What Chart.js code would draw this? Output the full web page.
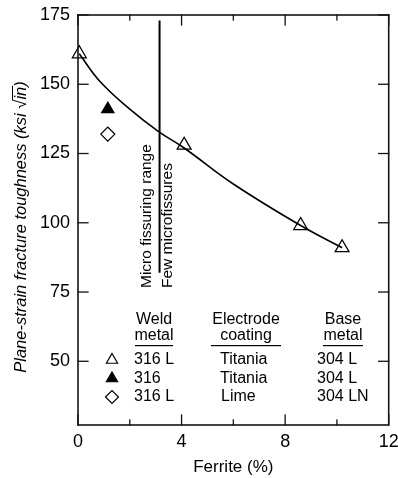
<!DOCTYPE html>
<html>
<head>
<meta charset="utf-8">
<script src="https://cdn.jsdelivr.net/npm/chart.js@4/dist/chart.umd.min.js"></script>
<style>
  html, body { margin: 0; padding: 0; background: #fff; }
  #wrap { width: 398px; height: 478px; }
</style>
</head>
<body>
<div id="wrap"><canvas id="chart"></canvas></div>
<script>
// data
const openTriX = [0.05, 4.1, 8.6, 10.2];
const openTriY = [161, 128, 99, 91];
const filledTriX = [1.15];
const filledTriY = [141];
const diamondX = [1.15];
const diamondY = [132];
// fitted curve
const curveX = [0.05, 0.85, 2.0, 3.1, 4.1, 6.0, 8.6, 10.2];
const curveY = [161, 151, 141, 133, 127, 114, 99, 91];
// micro fissuring boundary line
const boundaryX = [3.15, 3.15];
const boundaryY = [173, 82];

const yTicks = [50, 75, 100, 125, 150, 175];
const xTicks = [0, 4, 8, 12];
const xMinor = [2, 6, 10];

const toPts = (xs, ys) => xs.map((x, i) => ({ x: x, y: ys[i] }));

const FONT = "'Liberation Sans', Arial, sans-serif";

// plot box and inward ticks, same calls as the test page that did show a box
const frame = {
    id: 'frame',
    afterDraw(chart) {
        const ctx = chart.ctx;
        const a = chart.chartArea;
        const xs = chart.scales.x, ys = chart.scales.y;
        ctx.save();
        ctx.strokeStyle = 'rgb(20,20,20)';
        ctx.lineWidth = 1.6;
        ctx.strokeRect(a.left, a.top, a.right - a.left, a.bottom - a.top);
        ctx.lineWidth = 1.3;
        yTicks.forEach(v => {
            const p = ys.getPixelForValue(v);
            ctx.strokeRect(a.left, p, 10, 0.01);
            ctx.strokeRect(a.right - 10, p, 10, 0.01);
        });
        xTicks.forEach(v => {
            const p = xs.getPixelForValue(v);
            ctx.strokeRect(p, a.bottom - 10, 0.01, 10);
            ctx.strokeRect(p, a.top, 0.01, 10);
        });
        xMinor.forEach(v => {
            const p = xs.getPixelForValue(v);
            ctx.strokeRect(p, a.bottom - 5, 0.01, 5);
            ctx.strokeRect(p, a.top, 0.01, 5);
        });
        ctx.restore();
    }
};

// y title, rotated notes and the little legend table
const decorations = {
    id: 'decorations',
    afterDraw(chart) {
        const ctx = chart.ctx;
        ctx.save();
        ctx.fillStyle = '#000';
        ctx.strokeStyle = '#000';
        ctx.textBaseline = 'middle';

        // y axis title with a proper root sign
        ctx.save();
        ctx.translate(21, 227);
        ctx.rotate(-Math.PI / 2);
        ctx.font = 'italic 16.5px ' + FONT;
        const p1 = 'Plane-strain fracture toughness (ksi \u221A', p2 = 'in', p3 = ')';
        const w1 = ctx.measureText(p1).width, w2 = ctx.measureText(p2).width, w3 = ctx.measureText(p3).width;
        const x0 = -(w1 + w2 + w3) / 2;
        ctx.textAlign = 'left';
        ctx.fillText(p1, x0, 0);
        ctx.fillText(p2, x0 + w1, 0);
        ctx.fillText(p3, x0 + w1 + w2, 0);
        ctx.fillRect(x0 + w1 - 1, -9, w2 + 2, 1);
        ctx.restore();

        // rotated notes beside the boundary line
        ctx.font = '15.5px ' + FONT;
        ctx.textAlign = 'left';
        ctx.save();
        ctx.translate(147, 288);
        ctx.rotate(-Math.PI / 2);
        ctx.fillText('Micro fissuring range', 0, 0);
        ctx.restore();
        ctx.save();
        ctx.translate(168, 288);
        ctx.rotate(-Math.PI / 2);
        ctx.fillText('Few microfissures', 0, 0);
        ctx.restore();

        // legend table
        ctx.font = '16px ' + FONT;
        ctx.textAlign = 'center';
        const heads = [['Weld', 'metal', 154, 38], ['Electrode', 'coating', 246, 70], ['Base', 'metal', 343, 40]];
        heads.forEach(h => {
            ctx.fillText(h[0], h[2], 320);
            ctx.fillText(h[1], h[2], 336);
            ctx.fillRect(h[2] - h[3] / 2, 345, h[3], 1.2);
        });
        const rows = [
            ['316 L', 'Titania', '304 L', 'triangle', '#fff'],
            ['316', 'Titania', '304 L', 'triangle', '#000'],
            ['316 L', 'Lime', '304 LN', 'rectRot', '#fff']
        ];
        rows.forEach((r, i) => {
            const y = 360 + i * 18.5;
            ctx.textAlign = 'left';
            ctx.fillText(r[0], 134, y);
            ctx.fillText(r[1], r[1] === 'Lime' ? 221 : 220, y);
            ctx.fillText(r[2], 317, y);
            ctx.fillStyle = r[4];
            ctx.lineWidth = 1.2;
            Chart.helpers.drawPoint(ctx, { pointStyle: r[3], radius: 6.5, borderWidth: 1.2 }, 112, y);
            ctx.fillStyle = '#000';
        });
        ctx.restore();
    }
};

new Chart(document.getElementById('chart'), {
    type: 'scatter',
    data: {
        datasets: [
            {
                type: 'line',
                data: toPts(curveX, curveY),
                borderColor: '#000',
                borderWidth: 1.6,
                tension: 0.4,
                pointRadius: 0,
                fill: false,
                clip: false
            },
            {
                type: 'line',
                data: toPts(boundaryX, boundaryY),
                borderColor: '#000',
                borderWidth: 2,
                pointRadius: 0,
                fill: false,
                clip: false
            },
            {
                data: toPts(openTriX, openTriY),
                pointStyle: 'triangle',
                pointRadius: 8,
                backgroundColor: '#fff',
                borderColor: '#000',
                borderWidth: 1.3,
                clip: false
            },
            {
                data: toPts(filledTriX, filledTriY),
                pointStyle: 'triangle',
                pointRadius: 7,
                backgroundColor: '#000',
                borderColor: '#000',
                borderWidth: 1.3,
                clip: false
            },
            {
                data: toPts(diamondX, diamondY),
                pointStyle: 'rectRot',
                pointRadius: 7,
                backgroundColor: '#fff',
                borderColor: '#000',
                borderWidth: 1.3,
                clip: false
            }
        ]
    },
    options: {
        responsive: true,
        maintainAspectRatio: false,
        animation: false,
        layout: { padding: { top: 15, right: 7, left: 0, bottom: 0 } },
        plugins: {
            legend: { display: false },
            tooltip: { enabled: false }
        },
        scales: {
            x: {
                type: 'linear',
                min: 0,
                max: 12,
                afterBuildTicks: s => { s.ticks = xTicks.map(v => ({ value: v })); },
                afterFit: s => { s.height = 53; s.paddingRight = 0; s.paddingLeft = 0; },
                grid: { display: false, drawTicks: false },
                border: { display: false },
                ticks: { color: '#000', font: { family: FONT, size: 18 }, padding: 6 },
                title: {
                    display: true,
                    text: 'Ferrite (%)',
                    color: '#000',
                    font: { family: FONT, size: 17 },
                    padding: { top: 4, bottom: 0 }
                }
            },
            y: {
                min: 27,
                max: 175,
                afterBuildTicks: s => { s.ticks = yTicks.map(v => ({ value: v })); },
                afterFit: s => { s.width = 78; s.paddingTop = 0; s.paddingBottom = 0; },
                grid: { display: false, drawTicks: false },
                border: { display: false },
                ticks: { color: '#000', font: { family: FONT, size: 18 }, padding: 8 },
                title: { display: false }
            }
        }
    },
    plugins: [frame, decorations]
});
</script>
</body>
</html>
